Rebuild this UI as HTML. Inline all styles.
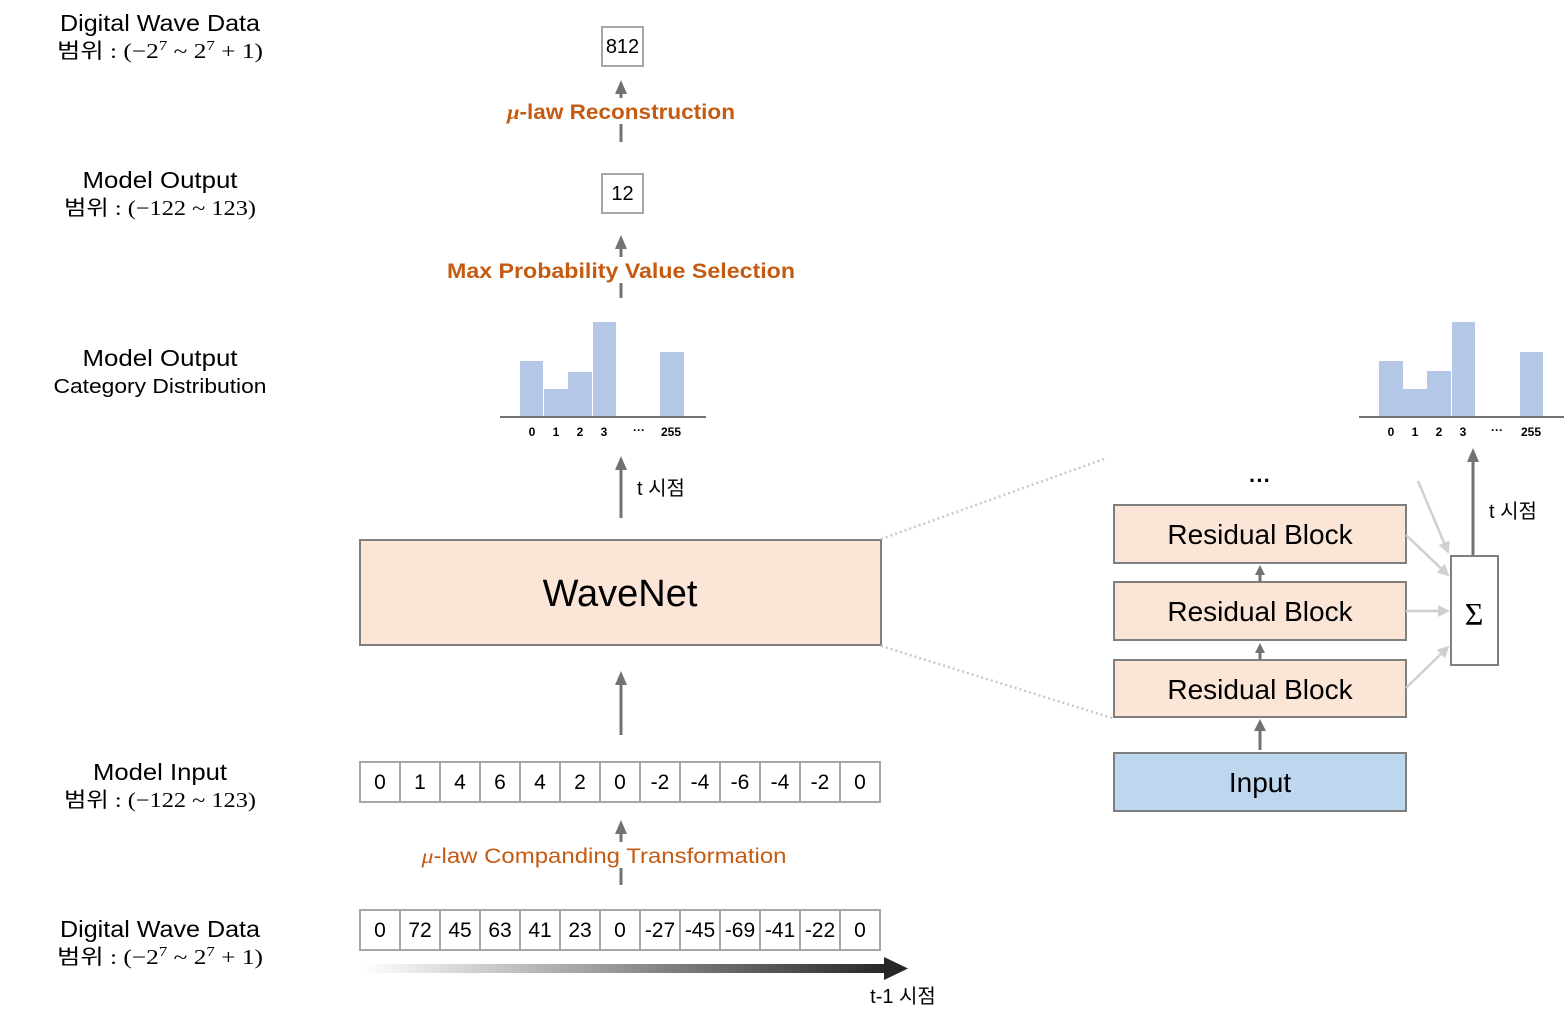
<!DOCTYPE html>
<html><head><meta charset="utf-8"><style>
html,body{margin:0;padding:0;background:#fff;}
svg{display:block;}
.s{font-family:"Liberation Sans","Noto Sans CJK KR",sans-serif;}
.m{font-family:"Liberation Serif","Noto Sans CJK KR",serif;}
</style></head><body>
<svg width="1566" height="1022" viewBox="0 0 1566 1022" xmlns="http://www.w3.org/2000/svg">
<defs>
<marker id="al" markerWidth="12" markerHeight="12" refX="10" refY="6" orient="auto" markerUnits="userSpaceOnUse"><path d="M0,0 L12,6 L0,12 z" fill="#d0d0d0"/></marker>
<linearGradient id="g" x1="0" x2="1"><stop offset="0" stop-color="#fff"/><stop offset="1" stop-color="#262626"/></linearGradient>
</defs>

<!-- left labels -->
<g class="s" text-anchor="middle" fill="#000">
<text x="160" y="31" font-size="23" textLength="200" lengthAdjust="spacingAndGlyphs">Digital Wave Data</text>
<text x="160" y="58" font-size="21" class="m" textLength="206" lengthAdjust="spacingAndGlyphs">범위 : (−2<tspan font-size="14" dy="-8">7</tspan><tspan dy="8">  ~  2</tspan><tspan font-size="14" dy="-8">7</tspan><tspan dy="8"> + 1)</tspan></text>
<text x="160" y="188" font-size="23" textLength="155" lengthAdjust="spacingAndGlyphs">Model Output</text>
<text x="160" y="215" font-size="21" class="m" textLength="192" lengthAdjust="spacingAndGlyphs">범위 : (−122  ~ 123)</text>
<text x="160" y="366" font-size="23" textLength="155" lengthAdjust="spacingAndGlyphs">Model Output</text>
<text x="160" y="393" font-size="20" textLength="213" lengthAdjust="spacingAndGlyphs">Category Distribution</text>
<text x="160" y="780" font-size="23" textLength="134" lengthAdjust="spacingAndGlyphs">Model Input</text>
<text x="160" y="807" font-size="21" class="m" textLength="192" lengthAdjust="spacingAndGlyphs">범위 : (−122  ~ 123)</text>
<text x="160" y="937" font-size="23" textLength="200" lengthAdjust="spacingAndGlyphs">Digital Wave Data</text>
<text x="160" y="964" font-size="21" class="m" textLength="206" lengthAdjust="spacingAndGlyphs">범위 : (−2<tspan font-size="14" dy="-8">7</tspan><tspan dy="8">  ~  2</tspan><tspan font-size="14" dy="-8">7</tspan><tspan dy="8"> + 1)</tspan></text>
</g>

<!-- top boxes -->
<rect x="602" y="27" width="41" height="39" fill="#fff" stroke="#a6a6a6" stroke-width="2"/>
<text x="622.5" y="53" class="s" font-size="20" text-anchor="middle">812</text>
<rect x="602" y="174" width="41" height="39" fill="#fff" stroke="#a6a6a6" stroke-width="2"/>
<text x="622.5" y="200" class="s" font-size="20" text-anchor="middle">12</text>

<g stroke="#767171" stroke-width="3">
<line x1="621" y1="142" x2="621" y2="92"/>
<line x1="621" y1="298" x2="621" y2="247"/>
<line x1="621" y1="518" x2="621" y2="468"/>
<line x1="621" y1="735" x2="621" y2="683"/>
<line x1="621" y1="885" x2="621" y2="832"/>
</g>
<g fill="#767171">
<path d="M615,94 L621,80 L627,94z"/>
<path d="M615,249 L621,235 L627,249z"/>
<path d="M615,470 L621,456 L627,470z"/>
<path d="M615,685 L621,671 L627,685z"/>
<path d="M615,834 L621,820 L627,834z"/>
</g>

<g class="s" font-weight="bold" fill="#C55A11" text-anchor="middle" font-size="21">
<rect x="505" y="98" width="232" height="26" fill="#fff"/>
<text x="621" y="119" textLength="228" lengthAdjust="spacingAndGlyphs"><tspan class="m" font-style="italic">μ</tspan>-law Reconstruction</text>
<rect x="446" y="257" width="350" height="26" fill="#fff"/>
<text x="621" y="278" textLength="348" lengthAdjust="spacingAndGlyphs">Max Probability Value Selection</text>
<rect x="420" y="842" width="370" height="26" fill="#fff"/>
<text x="604" y="863" font-weight="normal" textLength="365" lengthAdjust="spacingAndGlyphs"><tspan class="m" font-style="italic">μ</tspan>-law Companding Transformation</text>
</g>

<!-- left histogram -->
<g fill="#b4c7e7">
<rect x="520" y="361" width="23" height="56"/>
<rect x="544" y="389" width="24" height="28"/>
<rect x="568" y="372" width="24" height="45"/>
<rect x="593" y="322" width="23" height="95"/>
<rect x="660" y="352" width="24" height="65"/>
</g>
<line x1="500" y1="417" x2="706" y2="417" stroke="#767171" stroke-width="2"/>
<g class="s" font-size="12" font-weight="bold" text-anchor="middle">
<text x="532" y="436">0</text><text x="556" y="436">1</text><text x="580" y="436">2</text><text x="604" y="436">3</text><text x="639" y="434">···</text><text x="671" y="436">255</text>
</g>
<text x="637" y="495" class="s" font-size="20">t 시점</text>

<!-- WaveNet -->
<rect x="360" y="540" width="521" height="105" fill="#fbe5d6" stroke="#7f7f7f" stroke-width="2"/>
<text x="620" y="606" class="s" font-size="38" text-anchor="middle">WaveNet</text>

<!-- dotted -->
<line x1="881" y1="539" x2="1107" y2="458" stroke="#c9c9c9" stroke-width="2.5" stroke-dasharray="2,3"/>
<line x1="881" y1="646" x2="1112" y2="718" stroke="#c9c9c9" stroke-width="2.5" stroke-dasharray="2,3"/>

<!-- rows -->
<g class="s" font-size="21" text-anchor="middle">
<g fill="#fff" stroke="#a6a6a6" stroke-width="2">
<rect x="360" y="762" width="520" height="40"/>
<rect x="360" y="910" width="520" height="40"/>
</g>
<g stroke="#a6a6a6" stroke-width="2">
<path d="M400,762v40M440,762v40M480,762v40M520,762v40M560,762v40M600,762v40M640,762v40M680,762v40M720,762v40M760,762v40M800,762v40M840,762v40"/>
<path d="M400,910v40M440,910v40M480,910v40M520,910v40M560,910v40M600,910v40M640,910v40M680,910v40M720,910v40M760,910v40M800,910v40M840,910v40"/>
</g>
<text y="789"><tspan x="380">0</tspan><tspan x="420">1</tspan><tspan x="460">4</tspan><tspan x="500">6</tspan><tspan x="540">4</tspan><tspan x="580">2</tspan><tspan x="620">0</tspan><tspan x="660">-2</tspan><tspan x="700">-4</tspan><tspan x="740">-6</tspan><tspan x="780">-4</tspan><tspan x="820">-2</tspan><tspan x="860">0</tspan></text>
<text y="937"><tspan x="380">0</tspan><tspan x="420">72</tspan><tspan x="460">45</tspan><tspan x="500">63</tspan><tspan x="540">41</tspan><tspan x="580">23</tspan><tspan x="620">0</tspan><tspan x="660">-27</tspan><tspan x="700">-45</tspan><tspan x="740">-69</tspan><tspan x="780">-41</tspan><tspan x="820">-22</tspan><tspan x="860">0</tspan></text>
</g>

<rect x="362" y="964" width="526" height="9" fill="url(#g)"/>
<path d="M884,957 L908,968.5 L884,980z" fill="#262626"/>
<text x="903" y="1003" class="s" font-size="20" text-anchor="middle">t-1 시점</text>

<!-- right side -->
<g fill="#b4c7e7">
<rect x="1379" y="361" width="24" height="56"/>
<rect x="1403" y="389" width="24" height="28"/>
<rect x="1427" y="371" width="24" height="46"/>
<rect x="1452" y="322" width="23" height="95"/>
<rect x="1520" y="352" width="23" height="65"/>
</g>
<line x1="1359" y1="417" x2="1564" y2="417" stroke="#767171" stroke-width="2"/>
<g class="s" font-size="12" font-weight="bold" text-anchor="middle">
<text x="1391" y="436">0</text><text x="1415" y="436">1</text><text x="1439" y="436">2</text><text x="1463" y="436">3</text><text x="1497" y="434">···</text><text x="1531" y="436">255</text>
</g>

<text x="1260" y="488" class="s" font-size="22" font-weight="bold" text-anchor="middle">···</text>

<g stroke="#7f7f7f" stroke-width="2" fill="#fbe5d6">
<rect x="1114" y="505" width="292" height="58"/>
<rect x="1114" y="582" width="292" height="58"/>
<rect x="1114" y="660" width="292" height="57"/>
<rect x="1114" y="753" width="292" height="58" fill="#bdd7ee"/>
</g>
<g class="s" font-size="28" text-anchor="middle">
<text x="1260" y="544">Residual Block</text>
<text x="1260" y="621">Residual Block</text>
<text x="1260" y="699">Residual Block</text>
<text x="1260" y="792">Input</text>
</g>
<g stroke="#767171" stroke-width="3">
<line x1="1260" y1="582" x2="1260" y2="572"/>
<line x1="1260" y1="660" x2="1260" y2="650"/>
<line x1="1260" y1="750" x2="1260" y2="728"/>
<line x1="1473" y1="556" x2="1473" y2="460"/>
</g>
<g fill="#767171">
<path d="M1255,575 L1260,565 L1265,575z"/>
<path d="M1255,653 L1260,643 L1265,653z"/>
<path d="M1254,731 L1260,719 L1266,731z"/>
<path d="M1467,462 L1473,448 L1479,462z"/>
</g>
<rect x="1451" y="556" width="47" height="109" fill="#fff" stroke="#7f7f7f" stroke-width="2"/>
<text x="1474" y="625" class="m" font-size="32" text-anchor="middle">Σ</text>
<text x="1489" y="518" class="s" font-size="20">t 시점</text>

<g stroke="#d0d0d0" stroke-width="2.5" marker-end="url(#al)">
<line x1="1418" y1="481" x2="1448" y2="552"/>
<line x1="1406" y1="535" x2="1448" y2="575"/>
<line x1="1406" y1="611" x2="1448" y2="611"/>
<line x1="1406" y1="688" x2="1448" y2="647"/>
</g>
</svg>
</body></html>
